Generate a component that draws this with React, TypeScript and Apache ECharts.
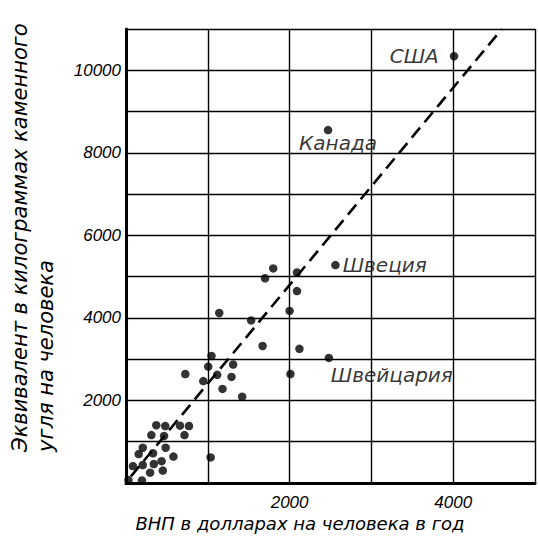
import React, { useEffect, useRef } from 'react';
import * as echarts from 'echarts';

// Other countries: GNP per capita ($/year) and energy (kg coal equivalent per capita)
const gnp = [
  1800, 1700, 2090, 2090, 1140, 2000, 1530, 1670, 2120, 1045, 1005, 1310, 725, 1115, 1290, 945, 2010, 1180, 1420,
  370, 480, 660, 770, 310, 465, 715, 205, 485, 155, 330, 580, 1035, 85, 205, 340, 435, 295, 450, 30, 195,
];
const energy = [
  5200, 4960, 5100, 4650, 4120, 4170, 3940, 3320, 3250, 3080, 2820, 2870, 2640, 2620, 2570, 2470, 2640, 2280, 2090,
  1400, 1380, 1390, 1380, 1160, 1140, 1160, 855, 855, 700, 720, 640, 620, 410, 435, 460, 530, 250, 300, 70, 60,
];
const countryNames = ['США', 'Канада', 'Швеция', 'Швейцария'];
const countryGnp = [4010, 2470, 2560, 2480];
const countryEnergy = [10340, 8550, 5280, 3030];
const xTickLabels = [2000, 4000];
const yTickLabels = [2000, 4000, 6000, 8000, 10000];
const trendX = [60, 4595];
const trendY = [160, 11000];

const labelFont = 'DejaVu Sans';
const tickFont = 'Liberation Sans';

export default function App() {
  const ref = useRef<HTMLDivElement>(null);
  useEffect(() => {
    if (!ref.current) return;
    const chart = echarts.init(ref.current, null, { renderer: 'svg' });
    const labelCfg: any[] = [
      { position: 'left', distance: 11 },
      { position: 'inside', offset: [10, 13] },
      { position: 'right', distance: 3 },
      { position: 'inside', offset: [63, 17] },
    ];
    const countryData = countryNames.map((n, i) => ({
      value: [countryGnp[i], countryEnergy[i]],
      name: n,
      label: {
        show: true,
        formatter: n,
        color: '#000',
        fontFamily: labelFont,
        fontStyle: 'italic',
        fontSize: 20,
        ...labelCfg[i],
      },
    }));
    chart.setOption({
      animation: false,
      backgroundColor: '#fff',
      grid: { left: 126, right: 1, top: 29, bottom: 54, containLabel: false },
      xAxis: {
        type: 'value',
        min: 0,
        max: 5000,
        interval: 1000,
        axisLine: { show: true, lineStyle: { color: '#000', width: 3 } },
        axisTick: { show: false },
        splitLine: { show: true, lineStyle: { color: '#000', width: 1.4 } },
        axisLabel: {
          color: '#000',
          fontFamily: tickFont,
          fontStyle: 'italic',
          fontSize: 17,
          margin: 11,
          formatter: (v: number) => (xTickLabels.includes(v) ? String(v) : ''),
        },
      },
      yAxis: {
        type: 'value',
        min: 0,
        max: 11000,
        interval: 1000,
        axisLine: { show: true, lineStyle: { color: '#000', width: 3 } },
        axisTick: { show: false },
        splitLine: { show: true, lineStyle: { color: '#000', width: 1.4 } },
        axisLabel: {
          color: '#000',
          fontFamily: tickFont,
          fontStyle: 'italic',
          fontSize: 17,
          margin: 5,
          formatter: (v: number) => (yTickLabels.includes(v) ? String(v) : ''),
        },
      },
      series: [
        {
          type: 'line',
          data: trendX.map((x, i) => [x, trendY[i]]),
          symbol: 'none',
          clip: true,
          lineStyle: { color: '#000', width: 2.6, type: [13, 7] },
          z: 3,
        },
        {
          type: 'scatter',
          data: gnp.map((x, i) => [x, energy[i]]),
          symbolSize: 8.5,
          itemStyle: { color: '#000' },
          z: 4,
        },
        {
          type: 'scatter',
          data: countryData,
          symbolSize: 8.5,
          itemStyle: { color: '#000' },
          z: 4,
        },
      ],
      graphic: [
        {
          type: 'text',
          x: 300,
          y: 523,
          style: {
            text: 'ВНП в долларах на человека в год',
            fontFamily: labelFont,
            fontStyle: 'italic',
            fontSize: 18,
            fill: '#000',
            align: 'center',
            verticalAlign: 'middle',
          },
        },
        {
          type: 'text',
          x: 33,
          y: 452,
          rotation: Math.PI / 2,
          style: {
            text: 'Эквивалент в килограммах каменного\nугля на человека',
            fontFamily: labelFont,
            fontStyle: 'italic',
            fontSize: 21,
            lineHeight: 26,
            fill: '#000',
            align: 'left',
            verticalAlign: 'middle',
          },
        },
      ],
    });
    return () => chart.dispose();
  }, []);
  return (
    <div
      ref={ref}
      style={{ position: 'fixed', left: 0, top: 0, width: 538, height: 537, background: '#fff' }}
    />
  );
}
